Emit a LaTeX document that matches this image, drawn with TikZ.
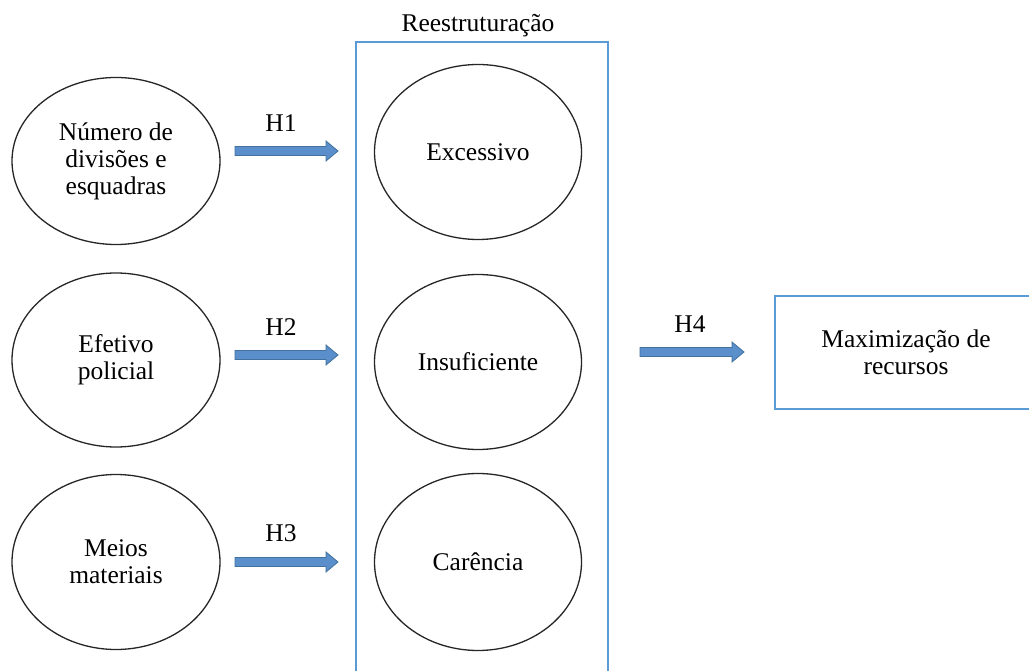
\documentclass[tikz,border=0pt]{standalone}
\usepackage{fontspec}
\setmainfont{Liberation Serif}
\usetikzlibrary{shapes.geometric,calc}
\definecolor{boxblue}{HTML}{5B9BD5}
\definecolor{arrowfill}{HTML}{5B8FCB}
\definecolor{arrowedge}{HTML}{41719C}
\tikzset{
  oval/.style={ellipse, draw=black!85, line width=1.3pt, inner sep=0pt, align=center,
    font=\fontsize{25.5}{27}\selectfont},
  frame/.style={rectangle, draw=boxblue, line width=1.3pt, inner sep=0pt, align=center,
    font=\fontsize{25.5}{27}\selectfont},
  lbl/.style={inner sep=0pt, font=\fontsize{25.5}{27}\selectfont},
  blockarrow/.style={fill=arrowfill, draw=arrowedge, line width=0.8pt,
    to path={($(\tikztostart)+(0,4.5)$) -- ($(\tikztotarget)+(-12,4.5)$) -- ++(0,5.5)
      -- (\tikztotarget) -- ($(\tikztotarget)+(-12,-10)$) -- ++(0,5.5)
      -- ($(\tikztostart)+(0,-4.5)$) -- cycle}}
}
\begin{document}
\begin{tikzpicture}[x=1pt,y=-1pt]
\useasboundingbox (0,0) rectangle (1029,671);
\clip (0,0) rectangle (1029,671);
\fill[white] (0,0) rectangle (1029,671);
% big frame
\node[frame, minimum width=252pt, minimum height=680pt] (reest) at (482,382) {};
\node[lbl] (reestlbl) at (478,26) {Reestruturação};
% right box
\node[frame, minimum width=268pt, minimum height=113pt] (maxi) at (909,352.5) {};
\node[lbl, align=center] (maxitxt) at (906,352) {Maximização de\\recursos};
% left ellipses
\node[oval, minimum width=208pt, minimum height=167pt] (l1) at (116,161) {Número de\\divisões e\\esquadras};
\node[oval, minimum width=208pt, minimum height=174pt] (l2) at (116,360) {Efetivo\\policial};
\node[oval, minimum width=208pt, minimum height=175pt] (l3) at (116,562) {Meios\\materiais};
% middle ellipses
\node[oval, minimum width=207pt, minimum height=175pt] (m1) at (478,152) {Excessivo};
\node[oval, minimum width=207pt, minimum height=175pt] (m2) at (478,362) {Insuficiente};
\node[oval, minimum width=207pt, minimum height=177pt] (m3) at (478,562) {Carência};
% arrow end points
\coordinate (a1s) at (235,151);
\coordinate (a1e) at (338,151);
\coordinate (a2s) at (235,355);
\coordinate (a2e) at (338,355);
\coordinate (a3s) at (235,562);
\coordinate (a3e) at (338,562);
\coordinate (a4s) at (640,352);
\coordinate (a4e) at (744,352);
\draw[blockarrow] (a1s) to (a1e);
\draw[blockarrow] (a2s) to (a2e);
\draw[blockarrow] (a3s) to (a3e);
\draw[blockarrow] (a4s) to (a4e);
% labels
\node[lbl] (h1) at (281,123) {H1};
\node[lbl] (h2) at (281,327) {H2};
\node[lbl] (h3) at (281,533) {H3};
\node[lbl] (h4) at (690,324) {H4};
\end{tikzpicture}
\end{document}
